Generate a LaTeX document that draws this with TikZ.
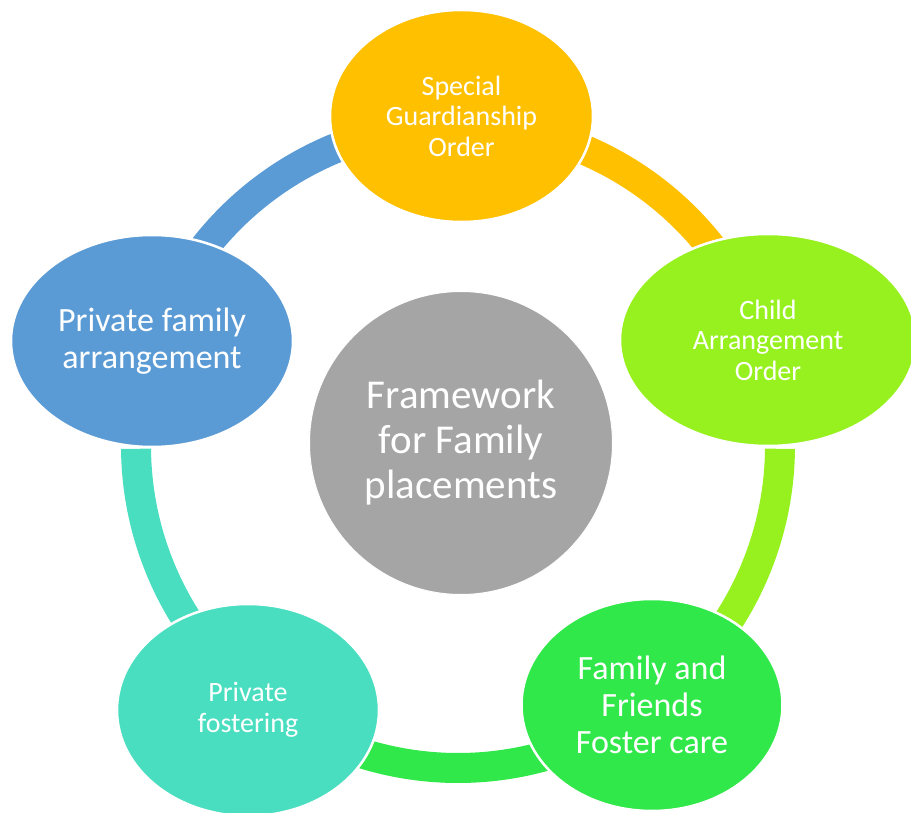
\documentclass[tikz,border=0pt]{standalone}
\usepackage{fontspec}
\setmainfont{Carlito}
\usetikzlibrary{shapes.geometric}

\definecolor{sgoOrange}{HTML}{FFC000}
\definecolor{caoLime}{HTML}{97F11F}
\definecolor{ffGreen}{HTML}{30E84A}
\definecolor{pfTeal}{HTML}{49DEC0}
\definecolor{pfaBlue}{HTML}{5B9BD5}
\definecolor{hubGray}{HTML}{A5A5A5}

\tikzset{
  bubble/.style={ellipse, draw=white, line width=2.5pt, inner sep=0pt,
    text=white, align=center},
  smalltext/.style={font=\fontsize{28}{30.5}\selectfont},
  bigtext/.style={font=\fontsize{34}{37}\selectfont},
  ringpart/.style={line width=30pt, line cap=butt}
}

\begin{document}
\begin{tikzpicture}[x=1pt,y=1pt]
  \useasboundingbox (0,0) rectangle (911,812);
  \clip (0,0) rectangle (911,812);

  % centre of the ring
  \coordinate (ring) at (458,366);

  % ring segments between neighbouring bubbles
  \draw[ringpart, pfaBlue]  ([shift={(108:322pt)}]ring) arc[start angle=108, end angle=146, radius=322pt];
  \draw[ringpart, sgoOrange]([shift={(35:322pt)}]ring)  arc[start angle=35, end angle=71, radius=322pt];
  \draw[ringpart, caoLime]  ([shift={(-37:322pt)}]ring) arc[start angle=-37, end angle=-0.5, radius=322pt];
  \draw[ringpart, ffGreen]  ([shift={(-111:322pt)}]ring) arc[start angle=-111, end angle=-71, radius=322pt];
  \draw[ringpart, pfTeal]   ([shift={(180.5:322pt)}]ring) arc[start angle=180.5, end angle=215, radius=322pt];

  % outer bubbles
  \node[bubble, smalltext, fill=sgoOrange, minimum width=263pt, minimum height=212pt]
    (sgo) at (461.5,696) {Special\\Guardianship\\Order};
  \node[bubble, smalltext, fill=caoLime, minimum width=296pt, minimum height=212pt]
    (cao) at (768,472) {Child\\Arrangement\\Order};
  \node[bubble, bigtext, fill=ffGreen, minimum width=261pt, minimum height=212pt]
    (ffc) at (652,107) {Family and\\Friends\\Foster care};
  \node[bubble, smalltext, fill=pfTeal, minimum width=262pt, minimum height=212pt]
    (pf) at (248,102) {Private\\fostering};
  \node[bubble, bigtext, fill=pfaBlue, minimum width=282pt, minimum height=212pt]
    (pfa) at (152,471) {Private family\\arrangement};

  % central circle
  \node[circle, fill=hubGray, draw=white, line width=1pt, minimum size=303pt, inner sep=0pt,
    text=white, align=center, font=\fontsize{41}{45}\selectfont]
    (hub) at (461,369) {Framework\\for Family\\placements};
\end{tikzpicture}
\end{document}
